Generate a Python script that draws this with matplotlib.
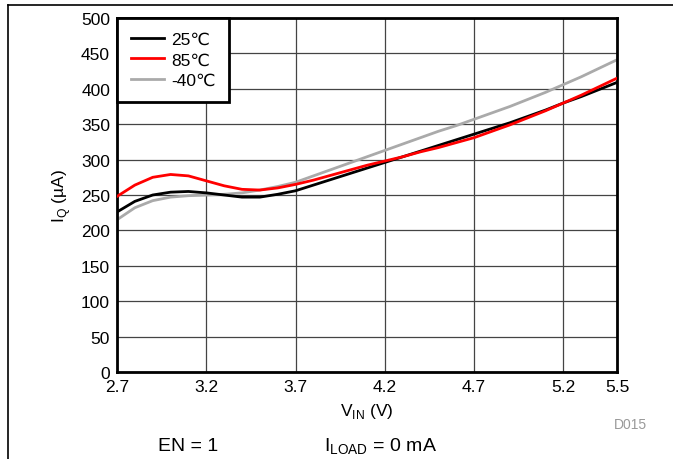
import matplotlib.pyplot as plt
from matplotlib.lines import Line2D

plt.rcParams['font.family'] = ['Liberation Sans', 'DejaVu Sans']

vin = [2.7, 2.8, 2.9, 3.0, 3.1, 3.2, 3.3, 3.4, 3.5, 3.6, 3.7, 3.8, 3.9, 4.0, 4.1,
       4.2, 4.3, 4.4, 4.5, 4.6, 4.7, 4.8, 4.9, 5.0, 5.1, 5.2, 5.3, 5.4, 5.5]
iq_25 = [226, 241, 250, 254, 255, 253, 250, 247, 247, 251, 256, 264, 272, 280, 288,
         296, 304, 312, 320, 328, 336, 344, 352, 361, 370, 380, 389, 399, 409]
iq_85 = [248, 264, 275, 279, 277, 270, 263, 258, 257, 260, 265, 271, 278, 285, 292,
         298, 304, 311, 317, 324, 331, 340, 349, 359, 369, 380, 391, 403, 415]
iq_m40 = [215, 232, 242, 247, 249, 250, 251, 253, 257, 262, 268, 277, 286, 295, 304,
          313, 322, 331, 340, 348, 357, 366, 375, 385, 395, 406, 417, 429, 441]

xticks = [2.7, 3.2, 3.7, 4.2, 4.7, 5.2, 5.5]
yticks = list(range(0, 501, 50))

fig = plt.figure(figsize=(6.73, 4.6), dpi=100)
ax = fig.add_axes([117 / 673, 1 - 373 / 460, 500 / 673, 354 / 460])

ax.plot(vin, iq_25, color='black', lw=2, label='25℃', zorder=3)
ax.plot(vin, iq_85, color='#ff0000', lw=2, label='85℃', zorder=4)
ax.plot(vin, iq_m40, color='#aaaaaa', lw=2, label='-40℃', zorder=2)

ax.set_xlim(2.7, 5.5)
ax.set_ylim(0, 500)
ax.set_xticks(xticks)
ax.set_xticklabels([f'{t:.1f}' for t in xticks])
ax.set_yticks(yticks)
ax.tick_params(length=0, labelsize=12.5, pad=5)
ax.grid(True, color='#444444', lw=0.9)
for s in ax.spines.values():
    s.set_linewidth(2)

ax.set_xlabel('V$_{\\mathregular{IN}}$ (V)', fontsize=12.5, labelpad=5)
ax.set_ylabel('I$_{\\mathregular{Q}}$ (µA)', fontsize=12.5, labelpad=6)

leg = ax.legend(loc='upper left', borderaxespad=0, fontsize=12.5, fancybox=False,
                handlelength=1.9, handletextpad=0.4, labelspacing=0.3,
                borderpad=0.8)
leg.get_frame().set_edgecolor('black')
leg.get_frame().set_linewidth(2)
leg.get_frame().set_alpha(1)

fig.text(630 / 673, 1 - 425 / 460, 'D015', color='#999999', fontsize=10, ha='center', va='center')
fig.text(188 / 673, 1 - 447 / 460, 'EN = 1', fontsize=14, ha='center', va='center')
fig.text(381 / 673, 1 - 447 / 460, 'I$_{\\mathregular{LOAD}}$ = 0 mA', fontsize=14, ha='center', va='center')

# page frame lines
fig.add_artist(Line2D([8 / 673, 1], [1 - 6 / 460, 1 - 6 / 460], color='black', lw=1.2))
fig.add_artist(Line2D([8 / 673, 8 / 673], [0, 1 - 6 / 460], color='black', lw=1.2))

fig.savefig('out.png', dpi=100)
